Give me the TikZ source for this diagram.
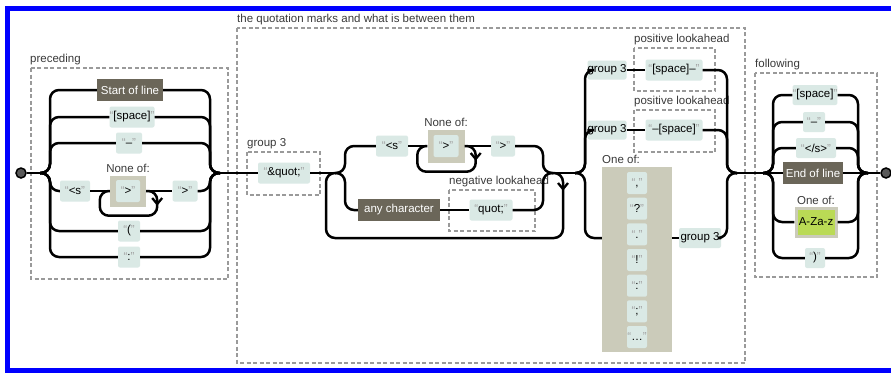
\documentclass[tikz,border=0pt]{standalone}
\usepackage{fontspec}
\setmainfont{Liberation Sans}
\usetikzlibrary{calc}
\definecolor{litfill}{HTML}{DAE9E5}
\definecolor{anchorfill}{HTML}{6B6659}
\definecolor{charfill}{HTML}{CBCBBA}
\definecolor{rangefill}{HTML}{BADA55}
\definecolor{dashcol}{HTML}{9A9A9A}
\definecolor{labcol}{HTML}{3A3A3A}
\definecolor{qcol}{HTML}{A0A0A0}
\newcommand\qt[1]{{\color{qcol}“}#1{\color{qcol}”}}
\begin{document}
\begin{tikzpicture}[x=1pt,y=-1pt,
  lit/.style={fill=litfill, rounded corners=2, inner sep=0pt, minimum height=21, font=\fontsize{11.5}{12}\selectfont},
  anchorbox/.style={fill=anchorfill, text=white, inner sep=0pt, minimum height=22, font=\fontsize{11.5}{12}\selectfont},
  charbox/.style={fill=charfill, inner sep=0pt},
  rangebox/.style={fill=rangefill, inner sep=0pt, minimum height=25, font=\fontsize{11.5}{12}\selectfont},
  lab/.style={text=labcol, inner sep=1pt, font=\fontsize{11.5}{12}\selectfont},
  dbox/.style={draw=dashcol, line width=1.3, dash pattern=on 4pt off 2.5pt},
  conn/.style={line width=2.5, rounded corners=9},
  term/.style={circle, fill=black!65, draw=black, line width=1.5, minimum size=10, inner sep=0pt},
  chev/.style={line width=2.3}
]
\fill[white] (0,0) rectangle (891,375);
\useasboundingbox (0,0) rectangle (891,375);
\draw[blue, line width=5] (891,8) -- (7.5,8) -- (7.5,370) -- (891,370);

% ---------- preceding ----------
\draw[dbox] (31,68) rectangle (228,279);
\node[lab, anchor=south west] (lpre) at (29,66) {preceding};
\node[term] (S) at (21,173) {};
\coordinate (pS) at (40,173);
\coordinate (pE) at (220,173);
\node[anchorbox, minimum width=66] (p1) at (130,90) {Start of line};
\node[lit, minimum width=45] (p2) at (132,117) {\qt{[space]}};
\node[lit, minimum width=26] (p3) at (129,143) {\qt{–}};
\node[lit, minimum width=30] (p4a) at (75,191) {\qt{<s}};
\node[charbox, minimum width=36, minimum height=31] (p4b) at (128,191) {};
\node[lit, minimum width=24, minimum height=22] (p4bi) at (128,191) {\qt{>}};
\node[lab, anchor=south] (lno1) at (128,174) {None of:};
\node[lit, minimum width=25] (p4c) at (185,191) {\qt{>}};
\node[lit, minimum width=22] (p5) at (129,231) {\qt{(}};
\node[lit, minimum width=22] (p6) at (129,257) {\qt{:}};
\draw[conn] (S) -- (pS);
\foreach \n in {p1,p2,p3,p5,p6}{
  \draw[conn] (pS) -- ++(10,0) |- (\n.west);
  \draw[conn] (\n.east) -| ($(pE)+(-10,0)$) -- (pE);
}
\draw[conn] (pS) -- ++(10,0) |- (p4a.west);
\draw[conn] (p4a.east) -- (p4b.west);
\draw[conn] (p4b.east) -- (p4c.west);
\draw[conn] (p4c.east) -| ($(pE)+(-10,0)$) -- (pE);
\draw[conn] (p4b.east) -| ($(p4b.south east)+(11,9)$) -| ($(p4b.west)+(-10,0)$) -- (p4b.west);
\coordinate (ar1) at ($(p4b.east)+(11,13)$);
\draw[chev] ($(ar1)+(-5,-6)$) -- (ar1) -- ($(ar1)+(5,-6)$);

% ---------- quotation marks ----------
\draw[dbox] (237,28) rectangle (745,363);
\node[lab, anchor=south west] (lquo) at (236,26) {the quotation marks and what is between them};
\draw[dbox] (247,152) rectangle (320,195);
\node[lab, anchor=south west] (lg3) at (246,150) {group 3};
\node[lit, minimum width=52] (q1) at (284,173) {\qt{\&quot;}};
\draw[conn] (pE) -- (q1.west);
\coordinate (qS) at (335,173);
\coordinate (qE) at (553,173);
\node[lit, minimum width=32] (q2) at (392,146) {\qt{<s}};
\node[charbox, minimum width=37, minimum height=33] (q3) at (446,146) {};
\node[lit, minimum width=25, minimum height=22] (q3i) at (446,146) {\qt{>}};
\node[lab, anchor=south] (lno2) at (446,128) {None of:};
\node[lit, minimum width=24] (q4) at (503,146) {\qt{>}};
\node[anchorbox, minimum width=82] (q5) at (399,210) {any character};
\draw[dbox] (449,190) rectangle (535,231);
\node[lab, anchor=south west] (lneg) at (448,188) {negative lookahead};
\node[lit, minimum width=43] (q6) at (491,210) {\qt{quot;}};
\draw[conn] (q1.east) -- (qS);
\draw[conn] (qS) -- ++(10,0) |- (q2.west);
\draw[conn] (q2.east) -- (q3.west);
\draw[conn] (q3.east) -- (q4.west);
\draw[conn] (q4.east) -| ($(qE)+(-10,0)$) -- (qE);
\draw[conn] (q3.east) -| ($(q3.south east)+(11,9)$) -| ($(q3.west)+(-10,0)$) -- (q3.west);
\coordinate (ar2) at ($(q3.east)+(11,13)$);
\draw[chev] ($(ar2)+(-5,-6)$) -- (ar2) -- ($(ar2)+(5,-6)$);
\draw[conn] (qS) -- ++(10,0) |- (q5.west);
\draw[conn] (q5.east) -- (q6.west);
\draw[conn] (q6.east) -| ($(qE)+(-10,0)$) -- (qE);
\coordinate (lpr) at (563,238);
\draw[conn] (qE) -| (lpr) -| (326,173) -- (qS);
\coordinate (ar3) at (563,189);
\draw[chev] ($(ar3)+(-5,-6)$) -- (ar3) -- ($(ar3)+(5,-6)$);

\coordinate (rS) at (575,173);
\coordinate (rE) at (737,173);
\draw[conn] (qE) -- (rS);
\node[lit, minimum width=36, minimum height=19] (r1a) at (607,70) {group 3};
\draw[dbox] (634,48) rectangle (715,91);
\node[lab, anchor=south west] (lpos1) at (633,46) {positive lookahead};
\node[lit, minimum width=57] (r1b) at (674,70) {\qt{[space]–}};
\node[lit, minimum width=36, minimum height=19] (r2a) at (607,130) {group 3};
\draw[dbox] (634,110) rectangle (715,152);
\node[lab, anchor=south west] (lpos2) at (633,108) {positive lookahead};
\node[lit, minimum width=57] (r2b) at (674,130) {\qt{–[space]}};
\node[charbox, minimum width=70, minimum height=185] (r3a) at (637,259.5) {};
\node[lab, anchor=south west] (lone1) at (601,165) {One of:};
\node[lit, minimum width=20, minimum height=22] (o1) at (637,183) {\qt{,}};
\node[lit, minimum width=20, minimum height=22] (o2) at (637,208.7) {\qt{?}};
\node[lit, minimum width=20, minimum height=22] (o3) at (637,234.3) {\qt{.}};
\node[lit, minimum width=20, minimum height=22] (o4) at (637,260) {\qt{!}};
\node[lit, minimum width=20, minimum height=22] (o5) at (637,285.7) {\qt{:}};
\node[lit, minimum width=20, minimum height=22] (o6) at (637,311.3) {\qt{;}};
\node[lit, minimum width=20, minimum height=22] (o7) at (637,337) {\qt{…}};
\node[lit, minimum width=42, minimum height=20] (r3b) at (700,238) {group 3};
\draw[conn] (rS) -- ++(10,0) |- (r1a.west);
\draw[conn] (r1a.east) -- (r1b.west);
\draw[conn] (r1b.east) -| ($(rE)+(-10,0)$) -- (rE);
\draw[conn] (rS) -- ++(10,0) |- (r2a.west);
\draw[conn] (r2a.east) -- (r2b.west);
\draw[conn] (r2b.east) -| ($(rE)+(-10,0)$) -- (rE);
\draw[conn] (rS) -- ++(10,0) |- (r3a.west |- r3b.west);
\draw[conn] (r3a.east |- r3b.west) -- (r3b.west);
\draw[conn] (r3b.east) -| ($(rE)+(-10,0)$) -- (rE);

% ---------- following ----------
\draw[dbox] (755,73) rectangle (877,277);
\node[lab, anchor=south west] (lfol) at (754,71) {following};
\coordinate (fS) at (763,173);
\coordinate (fE) at (868,173);
\draw[conn] (rE) -- (fS);
\node[lit, minimum width=40, minimum height=20] (f1) at (815,95) {\qt{[space]}};
\node[lit, minimum width=22, minimum height=20] (f2) at (814,122) {\qt{–}};
\node[lit, minimum width=40, minimum height=20] (f3) at (816,148) {\qt{</s>}};
\node[anchorbox, minimum width=60] (f4) at (813,173) {End of line};
\node[charbox, minimum width=43, minimum height=31] (f5) at (816,222) {};
\node[rangebox, minimum width=37] (f5i) at (816,222) {A-Za-z};
\node[lab, anchor=south] (lone2) at (816,206) {One of:};
\node[lit, minimum width=20, minimum height=20] (f6) at (815,258) {\qt{)}};
\foreach \n in {f1,f2,f3,f5,f6}{
  \draw[conn] (fS) -- ++(10,0) |- (\n.west);
  \draw[conn] (\n.east) -| ($(fE)+(-10,0)$) -- (fE);
}
\draw[conn] (fS) -- (f4.west);
\draw[conn] (f4.east) -- (fE);
\node[term] (E) at (886,173) {};
\draw[conn] (fE) -- (E);
\end{tikzpicture}
\end{document}
